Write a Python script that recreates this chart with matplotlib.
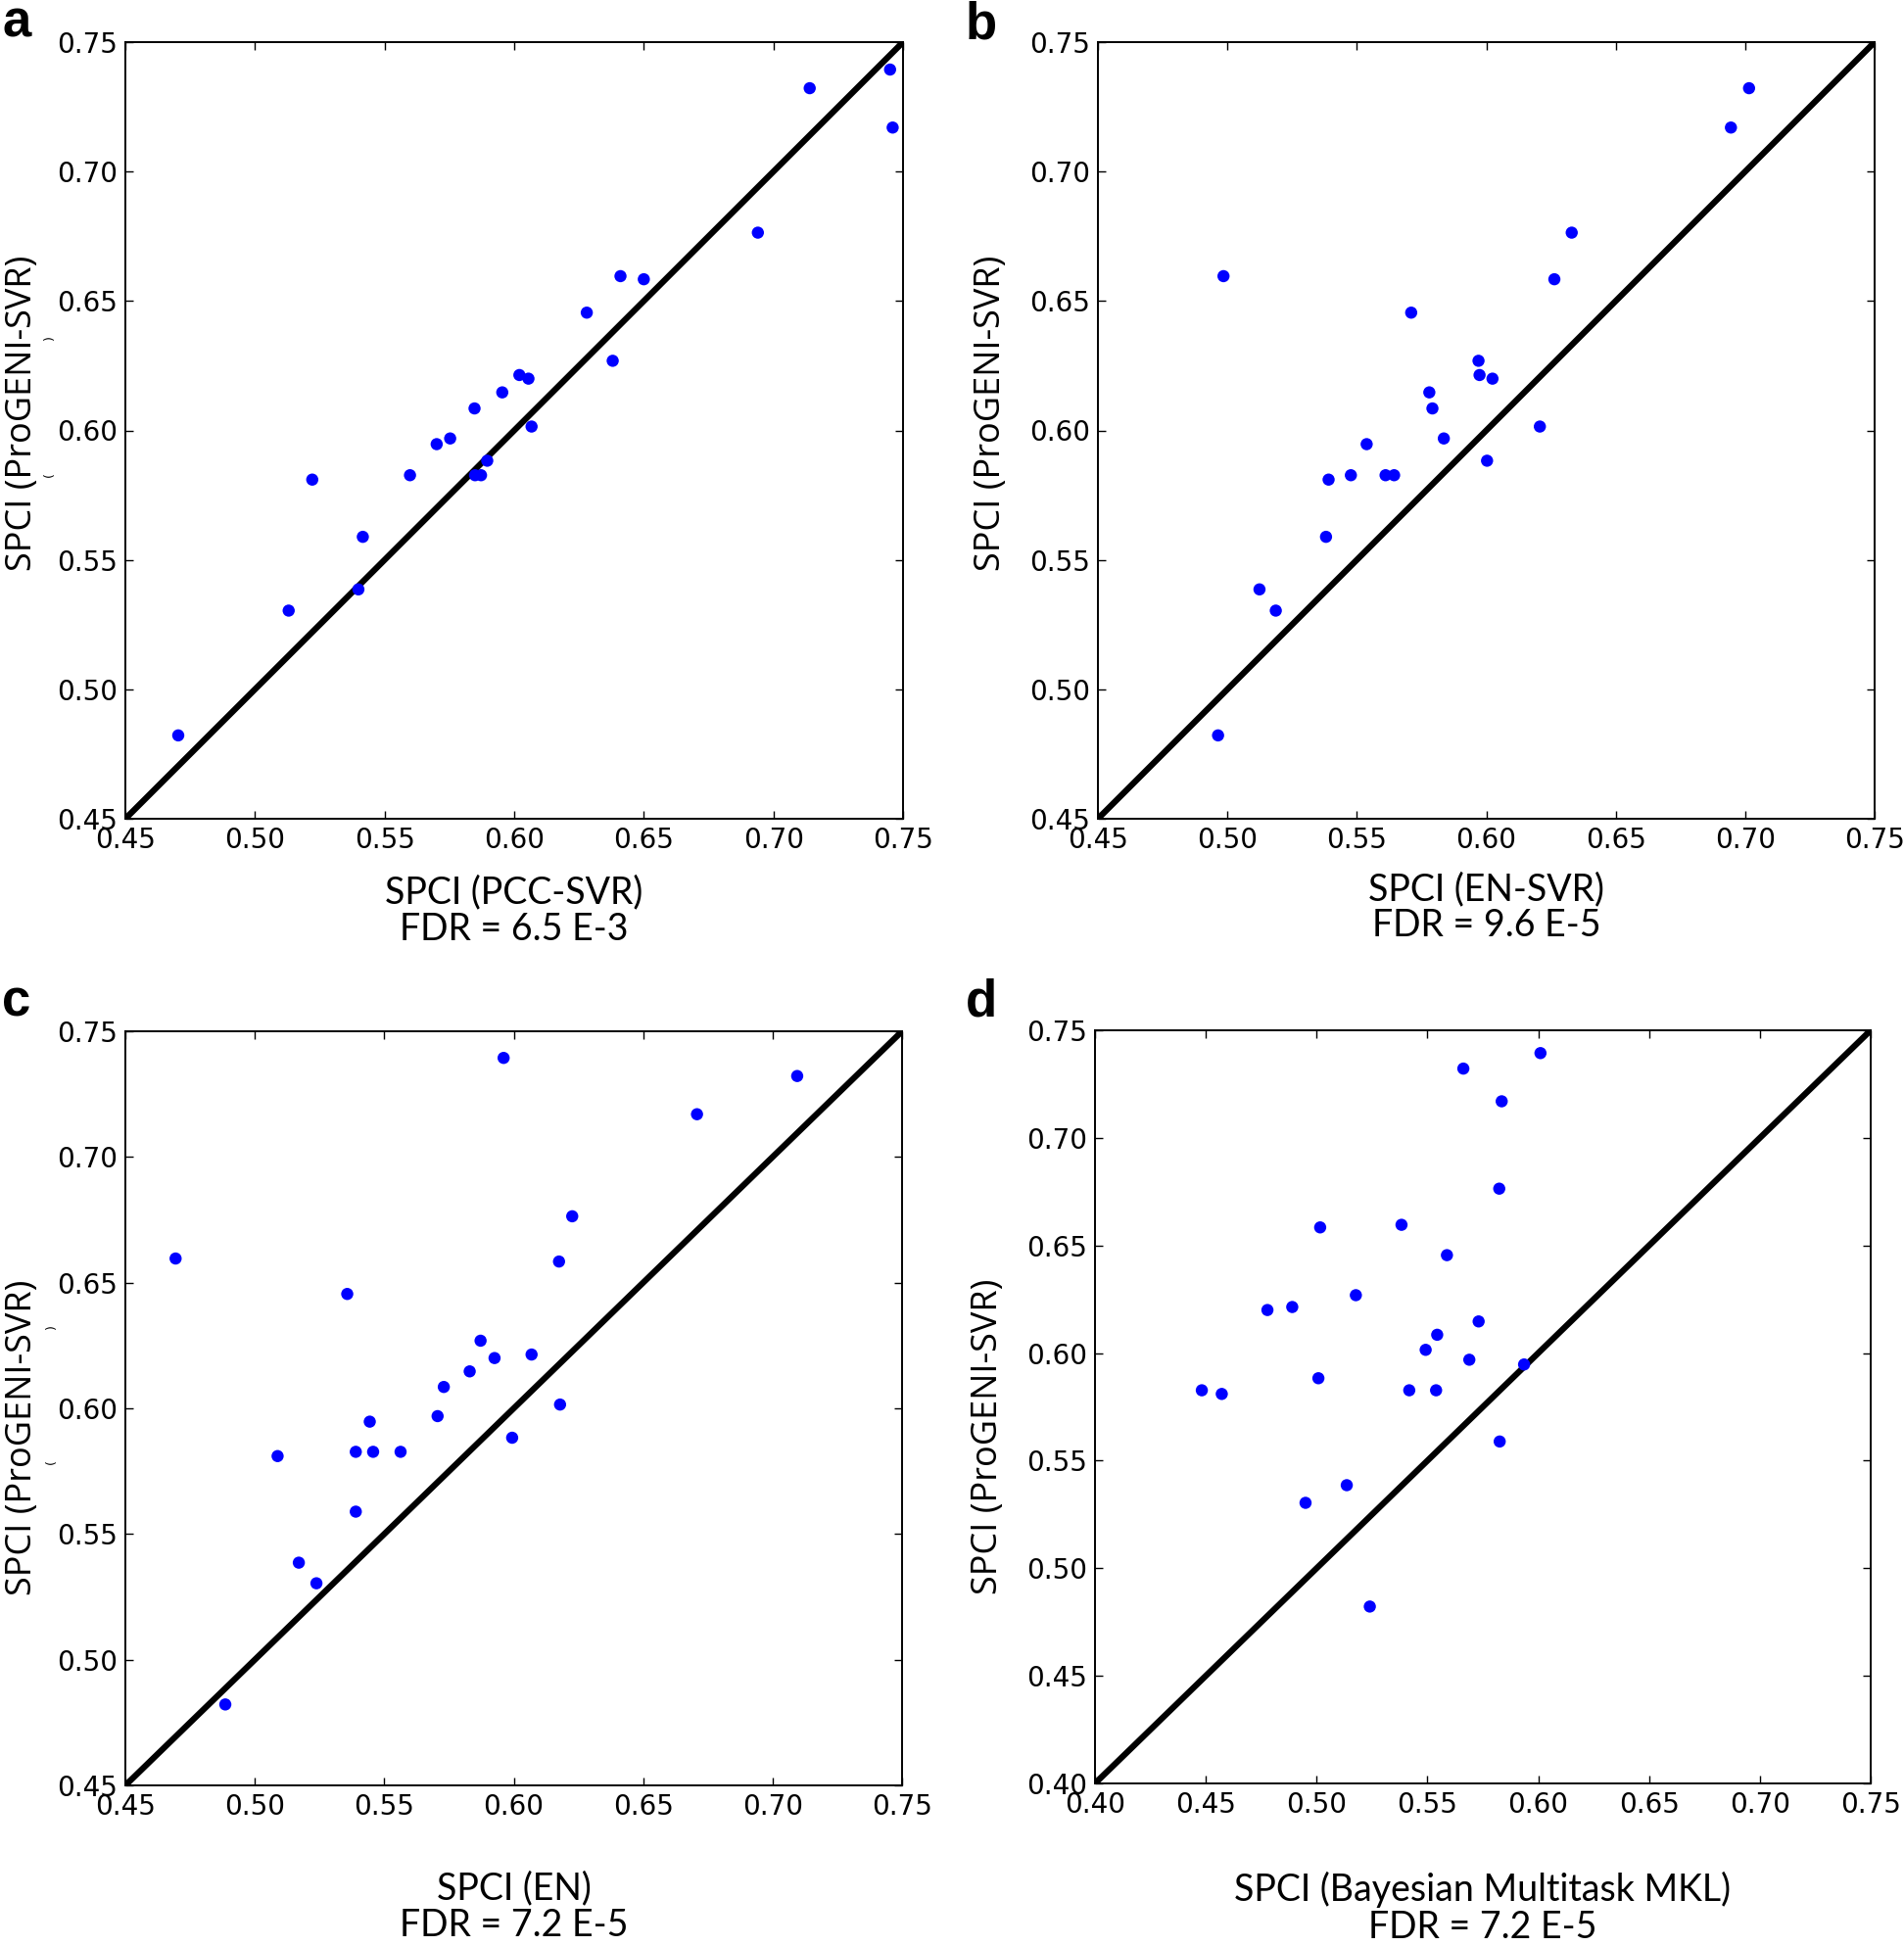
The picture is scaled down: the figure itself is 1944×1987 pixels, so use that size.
import numpy as np
import matplotlib
matplotlib.use("Agg")
import matplotlib.pyplot as plt

# ProGENI-SVR SPCI (shared y values, one per drug)
y_progeni = [0.7394, 0.7322, 0.7170, 0.6764, 0.6596, 0.6584, 0.6455, 0.6269,
             0.6214, 0.6200, 0.6147, 0.6085, 0.6015, 0.5969, 0.5947, 0.5883,
             0.5827, 0.5827, 0.5827, 0.5810, 0.5589, 0.5386, 0.5304, 0.4822]

x_pcc_svr = [0.745, 0.714, 0.746, 0.694, 0.641, 0.650, 0.628, 0.638,
             0.602, 0.6055, 0.5954, 0.5847, 0.6067, 0.5753, 0.5701, 0.5896,
             0.5598, 0.5849, 0.5872, 0.5221, 0.5416, 0.5399, 0.513, 0.4704]

# first drug falls outside the plotted range in panel b
x_en_svr = [np.nan, 0.7015, 0.6945, 0.633, 0.4985, 0.6263, 0.571, 0.597,
            0.5974, 0.6024, 0.578, 0.5792, 0.6207, 0.5836, 0.5538, 0.6003,
            0.5477, 0.5611, 0.5644, 0.5391, 0.5381, 0.5124, 0.5187, 0.4964]

x_en = [0.5961, 0.7095, 0.6708, 0.6226, 0.4694, 0.6175, 0.5357, 0.5872,
        0.6069, 0.5926, 0.583, 0.573, 0.6179, 0.5706, 0.5444, 0.5994,
        0.539, 0.5457, 0.5563, 0.5088, 0.539, 0.517, 0.5238, 0.4886]

x_bmtmkl = [0.601, 0.5662, 0.5835, 0.5824, 0.5383, 0.5016, 0.5588, 0.5177,
            0.489, 0.4778, 0.5731, 0.5544, 0.5492, 0.5689, 0.5936, 0.5008,
            0.4482, 0.5418, 0.5539, 0.4572, 0.5826, 0.5136, 0.495, 0.524]

panel_letters = ["a", "b", "c", "d"]
x_names = ["SPCI (PCC-SVR)", "SPCI (EN-SVR)", "SPCI (EN)", "SPCI (Bayesian Multitask MKL)"]
fdr_texts = ["FDR = 6.5 E-3", "FDR = 9.6 E-5", "FDR = 7.2 E-5", "FDR = 7.2 E-5"]
lows = [0.45, 0.45, 0.45, 0.40]
y_label = "SPCI (ProGENI-SVR)"

W, H = 1944, 1987
fig = plt.figure(figsize=(W / 100, H / 100), dpi=100)

# axes boxes in pixels: left, top, right, bottom
boxes = [(128, 43, 922, 836), (1121, 43, 1914, 836),
         (128, 1053, 921, 1823), (1118, 1052, 1910, 1821)]
xlab_y = [-0.072, -0.068, -0.114, -0.117]
ylab_pos = [(-0.110, 0.522), (-0.115, 0.522), (-0.110, 0.461), (-0.115, 0.461)]
letter_pos = [(2, 37), (986, 39), (2, 1037), (986, 1037)]

xs = [x_pcc_svr, x_en_svr, x_en, x_bmtmkl]

for i in range(4):
    l, t, r, b = boxes[i]
    ax = fig.add_axes([l / W, 1 - b / H, (r - l) / W, (b - t) / H])
    lo = lows[i]
    ax.plot([lo, 0.75], [lo, 0.75], color="black", lw=4.5, zorder=1)
    ax.scatter(xs[i], y_progeni, s=80, color="#0000ff", edgecolors="none", zorder=2)
    ax.set_xlim(lo, 0.75)
    ax.set_ylim(lo, 0.75)
    ticks = np.arange(lo, 0.7501, 0.05)
    ax.set_xticks(ticks)
    ax.set_yticks(ticks)
    ax.set_xticklabels([f"{v:.2f}" for v in ticks])
    ax.set_yticklabels([f"{v:.2f}" for v in ticks])
    ax.tick_params(direction="in", top=True, right=True, length=6, width=1,
                   labelsize=20, pad=6)
    for sp in ax.spines.values():
        sp.set_linewidth(1.4)
    ax.set_xlabel(x_names[i] + "\n" + fdr_texts[i], fontsize=27,
                  family=["Lato", "DejaVu Sans"], linespacing=1.05)
    ax.xaxis.set_label_coords(0.5, xlab_y[i])
    ax.set_ylabel(y_label, fontsize=26, family=["Open Sans", "DejaVu Sans"])
    ax.yaxis.set_label_coords(*ylab_pos[i])
    lx, ly = letter_pos[i]
    fig.text(lx / W, 1 - ly / H, panel_letters[i], fontsize=38, fontweight="bold",
             family=["Liberation Sans", "DejaVu Sans"], va="baseline", ha="left")

# stray parenthesis marks next to the y labels of panels a and c
for px, py, ch in [(50, 345, ")"), (50, 485, "("), (52, 1355, ")"), (52, 1493, "(")]:
    fig.text(px / W, 1 - py / H, ch, fontsize=9, rotation=90, ha="center", va="center")

fig.savefig("out.png", dpi=100)
